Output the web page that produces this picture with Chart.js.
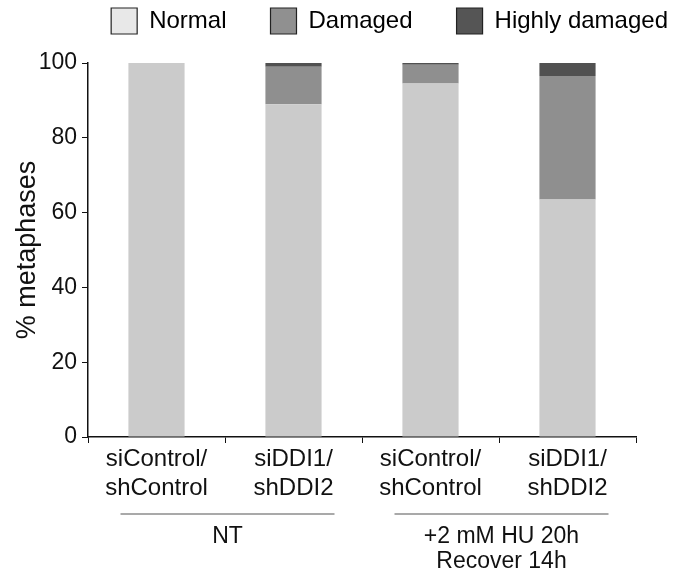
<!DOCTYPE html>
<html>
<head>
<meta charset="utf-8">
<script src="https://cdn.jsdelivr.net/npm/chart.js@4/dist/chart.umd.min.js"></script>
<style>
html,body{margin:0;padding:0;background:#fff;}
#wrap{width:675px;height:572px;}
</style>
</head>
<body>
<div id="wrap"><canvas id="c" width="675" height="572"></canvas></div>
<script>
const categories = [['siControl/','shControl'],['siDDI1/','shDDI2'],['siControl/','shControl'],['siDDI1/','shDDI2']];
const normalValues = [100, 89, 94.5, 63.5];
const damagedValues = [0, 10, 5, 33];
const highlyDamagedValues = [0, 1, 0.5, 3.5];
const yTicks = [0, 20, 40, 60, 80, 100];
const groups = [
  {label: ['NT'], from: 0, to: 1},
  {label: ['+2 mM HU 20h', 'Recover 14h'], from: 2, to: 3}
];
const seriesNames = ['Normal', 'Damaged', 'Highly damaged'];
const barColors = ['#cbcbcb', '#8f8f8f', '#515151'];
const legendColors = ['#e8e8e8', '#909090', '#555555'];

const FONT = 'Liberation Sans, Arial, Helvetica, sans-serif';

const groupPlugin = {
  id: 'groups',
  afterDraw(chart) {
    const ctx = chart.ctx;
    const x = chart.scales.x;
    ctx.save();
    ctx.strokeStyle = '#555';
    ctx.lineWidth = 1.2;
    ctx.fillStyle = '#111';
    ctx.font = '23px ' + FONT;
    ctx.textAlign = 'center';
    ctx.textBaseline = 'top';
    groups.forEach(g => {
      const x1 = x.getPixelForValue(g.from) - 36;
      const x2 = x.getPixelForValue(g.to) + 41;
      const ly = 514;
      ctx.beginPath();
      ctx.moveTo(x1, ly);
      ctx.lineTo(x2, ly);
      ctx.stroke();
      const cx = (x1 + x2) / 2;
      g.label.forEach((t, i) => ctx.fillText(t, cx, ly + 11 + i * 25));
    });
    ctx.restore();
  }
};

new Chart(document.getElementById('c'), {
  type: 'bar',
  data: {
    labels: categories,
    datasets: [
      {label: seriesNames[0], data: normalValues, backgroundColor: barColors[0]},
      {label: seriesNames[1], data: damagedValues, backgroundColor: barColors[1]},
      {label: seriesNames[2], data: highlyDamagedValues, backgroundColor: barColors[2]}
    ]
  },
  options: {
    responsive: false,
    animation: false,
    devicePixelRatio: 1,
    layout: {padding: {left: 0, right: -37, top: -36, bottom: 0}},
    datasets: {bar: {barPercentage: 0.41, categoryPercentage: 1, borderWidth: 0}},
    plugins: {
      legend: {
        position: 'top',
        align: 'end',
        labels: {
          font: {family: FONT, size: 24},
          color: '#111',
          boxWidth: 26,
          boxHeight: 26,
          padding: 44,
          generateLabels: () => seriesNames.map((n, i) => ({
            text: n, fillStyle: legendColors[i], strokeStyle: '#222', lineWidth: 1.2,
            hidden: false, datasetIndex: i
          }))
        }
      },
      tooltip: {enabled: false}
    },
    scales: {
      x: {
        stacked: true,
        grid: {display: true, drawOnChartArea: false, drawTicks: true, tickLength: 6, color: '#111', offset: true},
        border: {display: true, color: '#111', width: 1.5},
        ticks: {font: {family: FONT, size: 24}, color: '#111', padding: 2, maxRotation: 0, autoSkip: false},
        afterFit(s) { s.height = 135; }
      },
      xt: {
        type: 'category',
        position: 'top',
        display: true,
        grid: {display: false},
        border: {display: false},
        ticks: {display: false},
        afterFit(s) { s.height = 19; }
      },
      y: {
        stacked: true,
        min: 0, max: 100,
        afterBuildTicks(s) { s.ticks = yTicks.map(v => ({value: v})); },
        grid: {display: true, drawOnChartArea: false, drawTicks: true, tickLength: 6, color: '#111'},
        border: {display: true, color: '#111', width: 1.5},
        ticks: {font: {family: FONT, size: 23}, color: '#111', padding: 5},
        title: {display: true, text: '% metaphases', font: {family: FONT, size: 27}, color: '#111', padding: {top: 11, bottom: 0}},
        afterFit(s) { s.width = 88; }
      },
      yr: {
        position: 'right',
        display: true,
        grid: {display: false},
        border: {display: false},
        ticks: {display: false},
        afterFit(s) { s.width = 76; }
      }
    }
  },
  plugins: [groupPlugin]
});
</script>
</body>
</html>
